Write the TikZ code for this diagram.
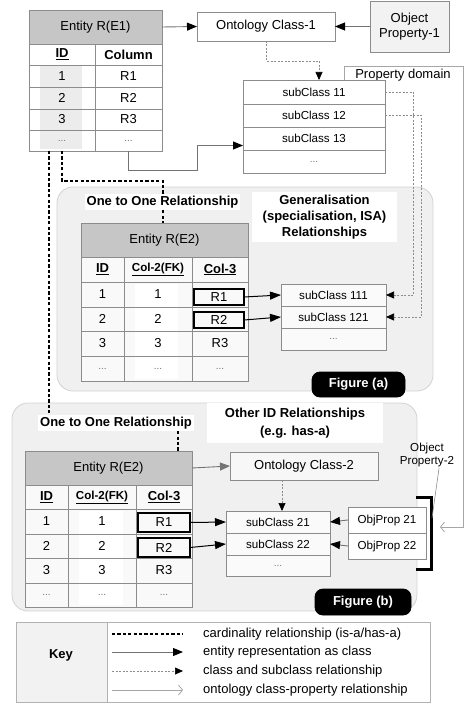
\documentclass[tikz,border=0pt]{standalone}
\usepackage{fontspec}
\setmainfont{Liberation Sans}
\usetikzlibrary{arrows.meta,calc}
\newcommand\fsN{\fontsize{13}{15}\selectfont}
\newcommand\fsS{\fontsize{11.6}{13.5}\selectfont}
\newcommand\fsB{\fontsize{13}{16}\selectfont\bfseries}
\newcommand\dd{{\fontsize{10}{12}\selectfont\color{black!55}...}}
\newcommand\cellbox[7][]{%
  \pgfmathsetmacro\cbw{#5-#3}%
  \pgfmathsetmacro\cbh{#6-#4}%
  \node[cellb,minimum width=\cbw pt,minimum height=\cbh pt,#1] (#2) at ({(#3+#5)/2},{(#4+#6)/2}) {#7};}
\begin{document}
\begin{tikzpicture}[x=1pt,y=-1pt,
  cellb/.style={draw=black!45,line width=0.8pt,inner sep=0pt,outer sep=0pt,font=\fsN,align=center},
  hdr/.style={fill=gray!45},
  thickbox/.style={draw=black,line width=2.6pt},
  blk/.style={fill=black,draw=black,rounded corners=8pt,text=white,font=\fsB},
  panel/.style={fill=gray!12,draw=gray!35,rounded corners=16pt},
  lbl/.style={fill=white,font=\fsB,inner sep=2pt},
  card/.style={draw=black,line width=1.8pt,dash pattern=on 3.2pt off 2.2pt},
  entarrow/.style={draw=black!55,line width=0.9pt,-{Triangle[length=10pt,width=8pt,color=black]}},
  blkarrow/.style={draw=black,line width=1pt,-{Triangle[length=11pt,width=8pt]}},
  subarrow/.style={draw=black!45,line width=0.7pt,dash pattern=on 2pt off 1.5pt,-{Triangle[length=8pt,width=7pt,color=black]}},
  proparrow/.style={draw=black!35,line width=0.8pt,-{Straight Barb[length=4pt,width=10pt]}},
]
\useasboundingbox (0,0) rectangle (474,714);

% panels
\cellbox[panel]{panela}{57}{187}{433}{391}{}
\cellbox[panel]{panelb}{12}{403}{417}{611}{}

% ---- Entity R(E1)
\fill[gray!15] (40,66) rectangle (82,149);
\cellbox[hdr]{eoneh}{29}{10}{162}{44}{Entity R(E1)}
\cellbox[font=\fsB]{eoneid}{29}{44}{95}{65}{\underline{ID}}
\cellbox[font=\fsB]{eonecol}{95}{44}{162}{65}{Column}
\cellbox{eoneia}{29}{65}{95}{87}{1}
\cellbox{eoneca}{95}{65}{162}{87}{R1}
\cellbox{eoneib}{29}{87}{95}{109}{2}
\cellbox{eonecb}{95}{87}{162}{109}{R2}
\cellbox{eoneic}{29}{109}{95}{130}{3}
\cellbox{eonecc}{95}{109}{162}{130}{R3}
\cellbox{eoneix}{29}{130}{95}{151}{\dd}
\cellbox{eonecx}{95}{130}{162}{151}{\dd}

% ---- Ontology class 1, object property 1
\cellbox[fill=white]{ocone}{197}{12}{335}{41}{Ontology Class-1}
\cellbox[fill=gray!10]{opone}{370}{1}{449}{52}{Object\\Property-1}

% ---- property domain
\node[font=\fsN,inner sep=0pt] (pdl) at (403,75) {Property domain};
\coordinate (pdend) at (440,527);
\draw[proparrow] (344,80) -- (344,66) -- (463,66) -- (463,527) -- (pdend);

% ---- subclasses 1x
\cellbox[fill=white,font=\fsS]{subeleven}{243}{80}{385}{104}{subClass 11}
\cellbox[fill=white,font=\fsS]{subtwelve}{243}{104}{385}{127}{subClass 12}
\cellbox[fill=white,font=\fsS]{subthirteen}{243}{127}{385}{150}{subClass 13}
\cellbox[fill=white,font=\fsS]{subonex}{243}{150}{385}{173}{\dd}

\draw[entarrow] (eoneh.east) -- (ocone.west);
\draw[entarrow] (opone.west |- ocone.east) -- (ocone.east);
\coordinate (kthree) at (319,61);
\draw[subarrow] (ocone.south) |- (kthree) -- (kthree |- subeleven.north);
\coordinate (kfour) at (197,170);
\draw[entarrow] (eonecx.south) |- (kfour) |- ($(subthirteen.west)+(0,7)$);

% ---- panel (a)
\node[lbl] (ota) at (162.5,202) {One to One Relationship};
\node[lbl,align=center,minimum width=145pt,minimum height=50pt,font=\fontsize{13}{16}\selectfont\bfseries] (gen) at (324.5,217) {Generalisation\\(specialisation, ISA)\\Relationships};
\fill[gray!5] (81,257) rectangle (248,381);
\fill[white] (135,284) rectangle (178,379);
\cellbox[hdr]{etwoah}{81}{223}{248}{257}{Entity R(E2)}
\cellbox[font=\fsB]{etwoaid}{81}{257}{124}{282}{\underline{ID}}
\cellbox[font=\fsS\bfseries]{etwoafk}{124}{257}{192}{282}{\underline{Col-2(FK)}}
\cellbox[font=\fsB]{etwoacol}{192}{257}{248}{282}{\underline{Col-3}}
\cellbox{aia}{81}{282}{124}{307}{1}
\cellbox{afa}{124}{282}{192}{307}{1}
\cellbox{aca}{192}{282}{248}{307}{}
\cellbox{aib}{81}{307}{124}{331}{2}
\cellbox{afb}{124}{307}{192}{331}{2}
\cellbox{acb}{192}{307}{248}{331}{}
\cellbox{aic}{81}{331}{124}{356}{3}
\cellbox{afc}{124}{331}{192}{356}{3}
\cellbox{acc}{192}{331}{248}{356}{R3}
\cellbox{aix}{81}{356}{124}{381}{\dd}
\cellbox{afx}{124}{356}{192}{381}{\dd}
\cellbox{acx}{192}{356}{248}{381}{\dd}
\cellbox[thickbox]{ronea}{194}{289}{244}{305}{R1}
\cellbox[thickbox]{rtwoa}{194}{312}{244}{328}{R2}
\cellbox[fill=gray!4,font=\fsS]{subaa}{281}{284}{386}{306}{subClass 111}
\cellbox[fill=gray!4,font=\fsS]{subab}{281}{306}{386}{328}{subClass 121}
\cellbox[fill=gray!4,font=\fsS]{subax}{281}{328}{386}{350}{\dd}
\draw[blkarrow] (ronea.east) -- (subaa.west);
\draw[blkarrow] (rtwoa.east) -- (subab.west);
\cellbox[blk]{figa}{312}{372}{405}{397}{Figure (a)}

\coordinate (kfive) at (413,0);
\coordinate (ksix) at (421,0);
\draw[subarrow] (subeleven.east) -| (kfive |- subaa.east) -- (subaa.east);
\draw[subarrow] (subtwelve.east) -| (ksix |- subab.east) -- (subab.east);

% ---- panel (b)
\node[lbl] (otb) at (116,423) {One to One Relationship};
\cellbox[lbl,draw=none,font=\fontsize{13}{18}\selectfont\bfseries]{other}{207}{403}{383}{443}{Other ID Relationships\\(e.g. has-a)}
\fill[gray!5] (25,485) rectangle (192,607);
\fill[white] (79,511) rectangle (123,605);
\cellbox[hdr]{etwobh}{25}{451}{192}{485}{Entity R(E2)}
\cellbox[font=\fsB]{etwobid}{25}{485}{68}{509}{\underline{ID}}
\cellbox[font=\fsS\bfseries]{etwobfk}{68}{485}{136}{509}{\underline{Col-2(FK)}}
\cellbox[font=\fsB]{etwobcol}{136}{485}{192}{509}{\underline{Col-3}}
\cellbox{bia}{25}{509}{68}{534}{1}
\cellbox{bfa}{68}{509}{136}{534}{1}
\cellbox{bca}{136}{509}{192}{534}{}
\cellbox{bib}{25}{534}{68}{558}{2}
\cellbox{bfb}{68}{534}{136}{558}{2}
\cellbox{bcb}{136}{534}{192}{558}{}
\cellbox{bic}{25}{558}{68}{583}{3}
\cellbox{bfc}{68}{558}{136}{583}{3}
\cellbox{bcc}{136}{558}{192}{583}{R3}
\cellbox{bix}{25}{583}{68}{607}{\dd}
\cellbox{bfx}{68}{583}{136}{607}{\dd}
\cellbox{bcx}{136}{583}{192}{607}{\dd}
\cellbox[thickbox]{roneb}{138}{513}{190}{532}{R1}
\cellbox[thickbox]{rtwob}{138}{538}{190}{557}{R2}
\cellbox[fill=gray!6]{octwo}{230}{452}{378}{480}{Ontology Class-2}
\cellbox[fill=gray!4,font=\fsS]{subba}{226}{511}{330}{533}{subClass 21}
\cellbox[fill=gray!4,font=\fsS]{subbb}{226}{533}{330}{555}{subClass 22}
\cellbox[fill=gray!4,font=\fsS]{subbx}{226}{555}{330}{576}{\dd}
\cellbox[fill=white,font=\fsS]{opta}{348}{507}{426}{533}{ObjProp 21}
\cellbox[fill=white,font=\fsS]{optb}{348}{533}{426}{559}{ObjProp 22}
\draw[entarrow,-{Triangle[length=10pt,width=8pt,color=black!55]}] (etwobh.east) -- (octwo.west);
\coordinate (kc) at (282,0);
\draw[subarrow] (octwo.south -| kc) -- (kc |- subba.north);
\draw[blkarrow] (roneb.east) -- (subba.west);
\draw[blkarrow] (rtwob.east) -- (subbb.west);
\draw[entarrow] (opta.west) -- (subba.east);
\draw[entarrow] (optb.west) -- (subbb.east);
\draw[line width=3pt] (416,497) -- (431,497) -- (431,569) -- (416,569);
\coordinate (brk) at (432,518);
\node[font=\fsS,align=center,inner sep=1pt] (optwo) at (427,455) {Object\\Property-2};
\draw[black!45,line width=0.6pt] ($(optwo.south)+(12,0)$) -- (brk);
\cellbox[blk]{figb}{315}{589}{411}{615}{Figure (b)}

% ---- cardinality lines
\coordinate (ckink) at (163,181);
\draw[card] (eoneix.south) |- (ckink) -- (ckink |- ota.north);
\draw[card] (ckink |- ota.south) -- (ckink |- etwoah.north);
\coordinate (cl) at ($(eoneix.south)+(-13,0)$);
\draw[card] (cl) -- (cl |- otb.north);
\coordinate (kb) at (178,0);
\draw[card] (kb |- otb.south) -- (kb |- etwobh.north);

% ---- key
\cellbox[fill=gray!10,draw=gray!60]{keyl}{16}{622}{107}{702}{}
\cellbox[draw=gray!60]{keyr}{107}{622}{430}{702}{}
\node[font=\fsB] (keyt) at (61,655) {Key};
\coordinate (la) at (112,634); \coordinate (lb) at (183,634);
\coordinate (lc) at (112,652); \coordinate (ld) at (183,652);
\coordinate (le) at (112,671); \coordinate (lf) at (183,671);
\coordinate (lg) at (112,690); \coordinate (lh) at (183,690);
\draw[card] (la) -- (lb);
\draw[entarrow] (lc) -- (ld);
\draw[subarrow] (le) -- (lf);
\draw[proparrow] (lg) -- (lh);
\node[font=\fsN,anchor=west,inner sep=0pt] (ta) at (203,634) {cardinality relationship (is-a/has-a)};
\node[font=\fsN,anchor=west,inner sep=0pt] (tb) at (203,652) {entity representation as class};
\node[font=\fsN,anchor=west,inner sep=0pt] (tc) at (203,671) {class and subclass relationship};
\node[font=\fsN,anchor=west,inner sep=0pt] (td) at (203,690) {ontology class-property relationship};
\end{tikzpicture}
\end{document}
